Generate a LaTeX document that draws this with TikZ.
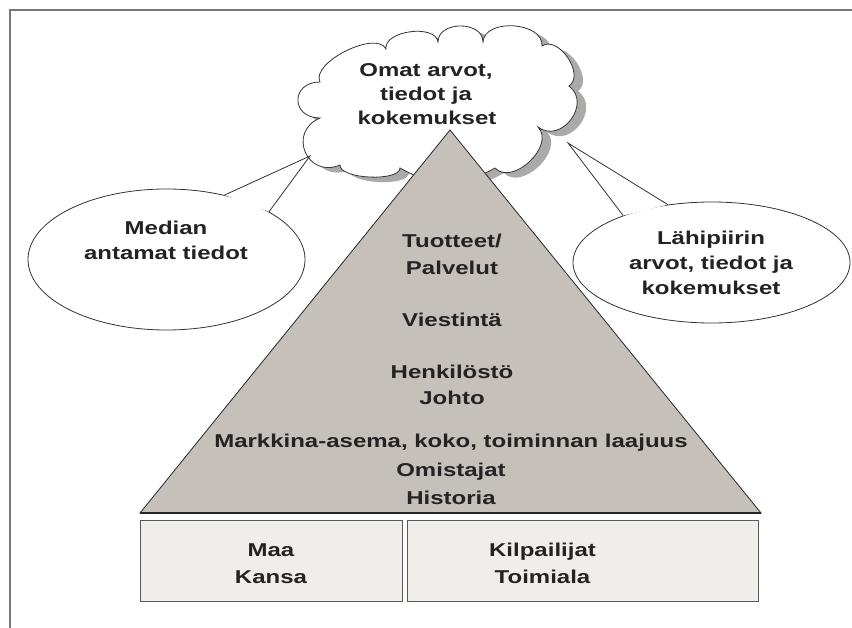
\documentclass[tikz,border=0pt]{standalone}
\usepackage{fontspec}
\setmainfont{Liberation Sans}[FakeStretch=1.29]
\usetikzlibrary{shapes.geometric}
\definecolor{pyr}{RGB}{198,192,187}
\definecolor{boxf}{RGB}{240,238,235}
\definecolor{framec}{RGB}{120,120,120}
\definecolor{shadowc}{RGB}{172,170,168}
\definecolor{txt}{RGB}{35,35,35}
\begin{document}
\begin{tikzpicture}[x=1pt,y=-1pt,
  lbl/.style={font=\bfseries\fontsize{18.6}{26}\selectfont, text=txt, anchor=base, inner sep=0pt},
  bubble/.style={ellipse, draw=black!80, line width=0.8pt, fill=white, inner sep=0pt},
  tail/.style={draw=black!80, line width=0.8pt, line join=miter},
  boxst/.style={draw=black!65, line width=1.1pt, fill=boxf, inner sep=0pt, anchor=north west},
  cloudpath/.style={insert path={
    (320,82) to[out=90+30,in=-90+30,looseness=0.75, bend left=90] (386,49)
    to[bend left=90, looseness=0.9] (438,42)
    to[bend left=90, looseness=1.22] (483,42)
    to[bend left=90, looseness=1.05] (542,46)
    to[bend left=90, looseness=1.05] (569,86)
    to[bend left=90, looseness=1.45] (538,127)
    to[bend left=90, looseness=1.1] (495,168)
    to[bend left=30] (400,168)
    to[bend left=90, looseness=0.6] (340,165)
    to[bend left=90, looseness=1.8] (320,118)
    to[bend left=90, looseness=2.1] (320,82) -- cycle}}]
\useasboundingbox (0,0) rectangle (852,628);
\fill[white] (0,0) rectangle (852,628);
% frame
\coordinate (fa) at (10,628);
\coordinate (fb) at (10,10);
\coordinate (fc) at (852,10);
\draw[framec, line width=2pt] (fa) -- (fb) -- (fc);
% cloud with shadow
\fill[shadowc, xshift=9pt, yshift=-5pt, cloudpath];
\filldraw[fill=white, draw=black!80, line width=0.8pt, cloudpath];
% left bubble
\node[bubble, minimum width=277pt, minimum height=141pt] (media) at (166.5,259.5) {};
\coordinate (tipL) at (310,156);
\fill[white] (media.48.7) -- (tipL) -- (media.25.8) -- cycle;
\draw[tail] (media.48.7) -- (tipL) -- (media.25.8);
% right bubble
\node[bubble, minimum width=277pt, minimum height=121pt] (lahi) at (711.5,262.5) {};
\coordinate (tipR) at (568,143);
\fill[white] (lahi.127.1) -- (tipR) -- (lahi.152.2) -- cycle;
\draw[tail] (lahi.127.1) -- (tipR) -- (lahi.152.2);
% pyramid
\coordinate (apex) at (450,130);
\coordinate (bl) at (140,513);
\coordinate (br) at (761,513);
\filldraw[fill=pyr, draw=black!85, line width=0.8pt, line join=miter] (apex) -- (br) -- (bl) -- cycle;
\draw[black!85, line width=1.2pt] (bl) -- (br);
% boxes
\node[boxst, minimum width=262pt, minimum height=81pt] (maa) at (140,520) {};
\node[boxst, minimum width=351pt, minimum height=81pt] (kilp) at (407,520) {};
% texts
\node[lbl] (c1) at (426,77) {Omat arvot,};
\node[lbl] (c2) at (426,101) {tiedot ja};
\node[lbl] (c3) at (427,125) {kokemukset};
\node[lbl] (m1) at (166,235) {Median};
\node[lbl] (m2) at (166,260) {antamat tiedot};
\node[lbl] (l1) at (711,245) {Lähipiirin};
\node[lbl] (l2) at (711,270) {arvot, tiedot ja};
\node[lbl] (l3) at (711,295) {kokemukset};
\node[lbl] (p1) at (452,248) {Tuotteet/};
\node[lbl] (p2) at (452,275) {Palvelut};
\node[lbl] (p3) at (452,327) {Viestintä};
\node[lbl] (p4) at (452,379) {Henkilöstö};
\node[lbl] (p5) at (452,404.5) {Johto};
\node[lbl] (p6) at (451,447) {Markkina-asema, koko, toiminnan laajuus};
\node[lbl] (p7) at (451,476) {Omistajat};
\node[lbl] (p8) at (451,504.5) {Historia};
\node[lbl] (b1) at (271,556) {Maa};
\node[lbl] (b2) at (271,583) {Kansa};
\node[lbl] (b3) at (542.5,556) {Kilpailijat};
\node[lbl] (b4) at (542.5,583) {Toimiala};
\end{tikzpicture}
\end{document}
